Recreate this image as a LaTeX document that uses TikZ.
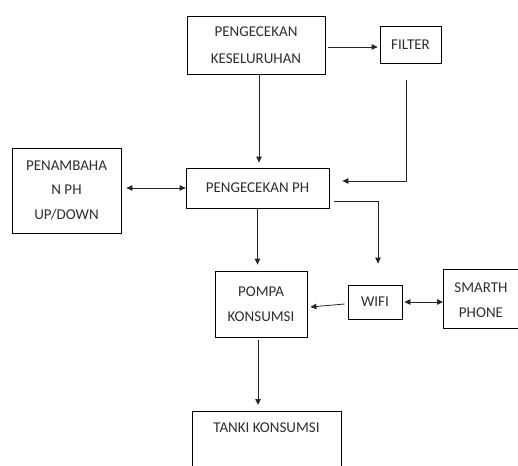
\documentclass[tikz,border=0pt]{standalone}
\usepackage{fontspec}
\setmainfont{Carlito}
\usetikzlibrary{arrows.meta,calc}
\definecolor{txt}{HTML}{2E2E2E}
\tikzset{
  box/.style={draw=black,line width=0.8pt,inner sep=0pt,align=center,text=txt,
    font=\fontsize{15}{24.5}\selectfont},
  lbl/.style={inner sep=0pt,align=center,text=txt,font=\fontsize{15}{24.5}\selectfont},
  frame/.style={draw=black,line width=0.8pt},
  arr/.style={draw=black!85,line width=0.8pt,-{Triangle[length=6pt,width=5.5pt]}},
  darr/.style={draw=black!85,line width=0.8pt,{Triangle[length=6pt,width=5.5pt]}-{Triangle[length=6pt,width=5.5pt]}}
}
\begin{document}
\begin{tikzpicture}[x=1pt,y=-1pt]
\useasboundingbox (0,0) rectangle (518,465);
\node[box,minimum width=138pt,minimum height=58pt,font=\fontsize{15}{26.5}\selectfont] (pk) at (256,45) {PENGECEKAN\\KESELURUHAN};
\node[box,minimum width=61pt,minimum height=37pt] (filter) at (410.5,44.5) {FILTER};
\node[box,minimum width=109pt,minimum height=85pt] (pen) at (66.5,190.5) {PENAMBAHA\\N PH\\UP/DOWN};
\node[box,minimum width=143pt,minimum height=40pt] (ph) at (257.5,188) {PENGECEKAN PH};
\node[box,minimum width=92pt,minimum height=66pt] (pompa) at (261,304) {POMPA\\KONSUMSI};
\node[box,minimum width=54pt,minimum height=34pt] (wifi) at (375,302) {WIFI};
% smartphone box runs past the right edge
\draw[frame] (522,269) -- (443,269) -- (443,328) -- (522,328);
\node[lbl] (smart) at (481,300) {SMARTH\\PHONE};
\coordinate (smartwest) at (443,302);
% tank box runs past the bottom edge
\coordinate (tanktop) at (266.5,411);
\draw[frame] (192,468) -- (192,411) -- (341,411) -- (341,468);
\node[lbl] (tanki) at (266.5,428) {TANKI KONSUMSI};
% connectors
\draw[arr] ($(pk.east)+(3,2)$) -- ($(pk.east -| filter.west)+(-2,2)$);
\draw[arr,shorten >=5pt] ($(pk.south)+(3,0)$) -- ($(pk.south |- ph.north)+(3,0)$);
\draw[arr] ($(filter.south)+(-4,17)$) |- ($(ph.east)+(13,-7)$);
\draw[darr] ($(pen.east |- ph.west)+(5,0)$) -- (ph.west);
\draw[arr,shorten >=6pt] (ph.south) -- (ph.south |- pompa.north);
\draw[arr] ($(ph.east)+(5,13)$) -| ($(wifi.north)+(3,-21)$);
\draw[arr] ($(wifi.west)+(-3,2)$) -- ($(pompa.east)+(3,3)$);
\draw[darr] ($(wifi.east)+(2,0)$) -- (smartwest);
\draw[arr] ($(pompa.south)+(-3,3)$) -- ($(pompa.south |- tanktop)+(-3,-6)$);
\end{tikzpicture}
\end{document}
